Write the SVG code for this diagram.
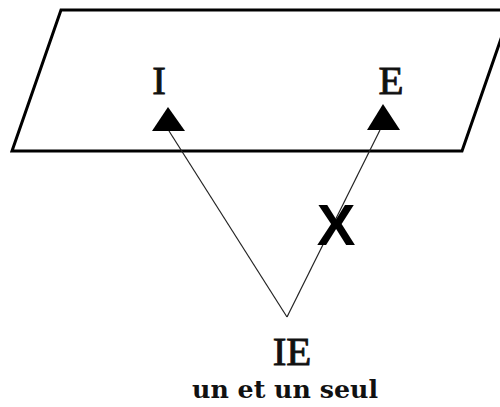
<svg xmlns="http://www.w3.org/2000/svg" width="500" height="407" viewBox="0 0 500 407">
<style>
.lbl{font-family:"Liberation Serif","DejaVu Serif",serif;fill:#111;stroke:#111;stroke-width:0.9;text-anchor:middle}
.sub{font-family:"DejaVu Serif","Liberation Serif",serif;fill:#111;font-weight:bold;text-anchor:middle}
.conn{stroke:#222;stroke-width:1.2;fill:none}
.tri{fill:#000}
</style>
<rect width="500" height="407" fill="#fff"/>
<g id="plane">
<polygon points="61,10 511,10 462,151 12,151" fill="#fff" stroke="#000" stroke-width="3" stroke-linejoin="miter"/>
</g>
<g id="connectors">
<line class="conn" x1="287" y1="317" x2="169" y2="131"/>
<line class="conn" x1="287" y1="317" x2="380" y2="130"/>
<polygon class="tri" points="168,107 152,131 185,131"/>
<polygon class="tri" points="383,104 367,130 400,130"/>
<text x="336" y="245" font-family="'Liberation Sans',Arial,sans-serif" font-weight="bold" font-size="58" text-anchor="middle" fill="#000">X</text>
</g>
<g id="node-I">
<text class="lbl" x="159" y="94" font-size="41">I</text>
</g>
<g id="node-E">
<text class="lbl" x="391" y="94" font-size="41">E</text>
</g>
<g id="node-IE">
<text class="lbl" x="292" y="365" font-size="41">IE</text>
<text class="sub" x="285" y="398" font-size="25" textLength="186" lengthAdjust="spacingAndGlyphs">un et un seul</text>
</g>
</svg>
